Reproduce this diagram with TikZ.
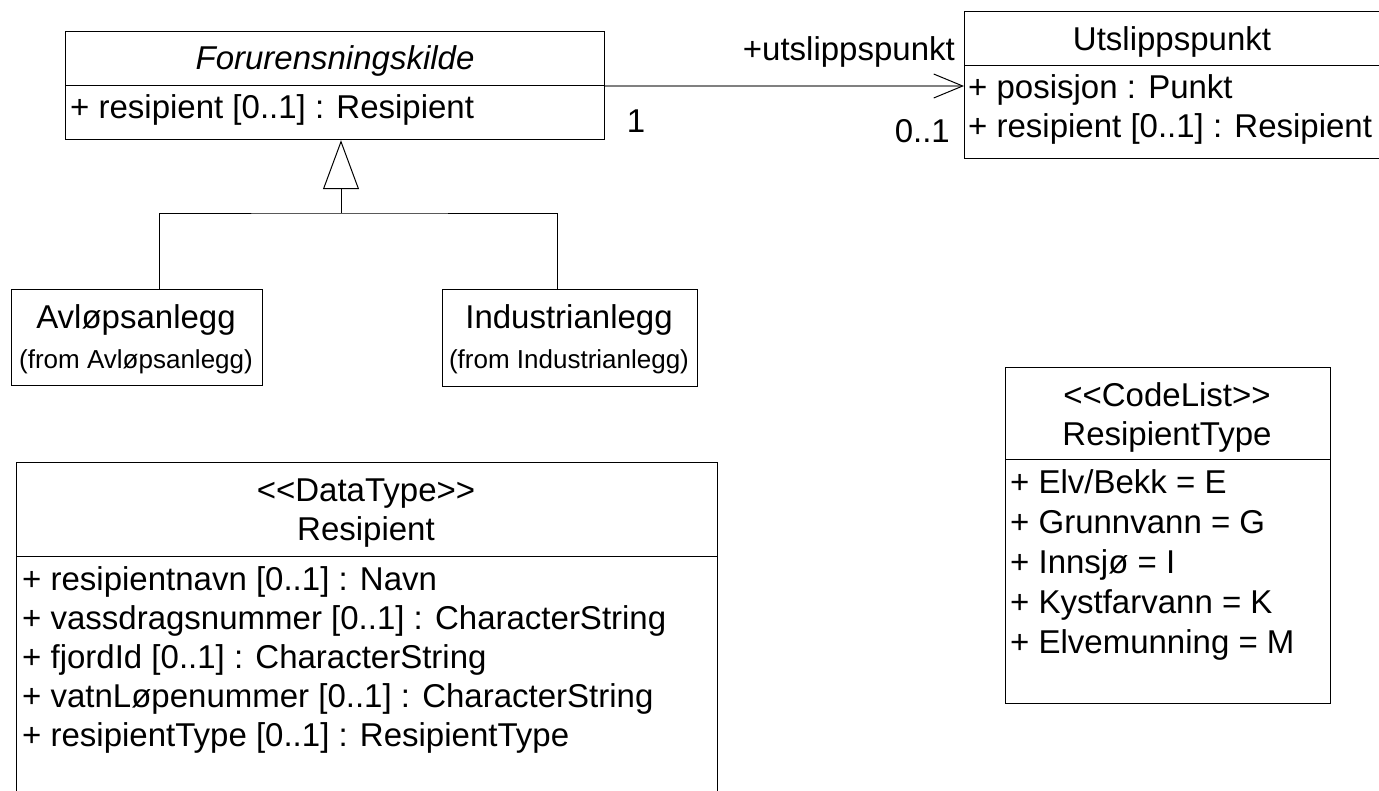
\documentclass[tikz,border=0pt]{standalone}
\usepackage{fontspec}
\setmainfont{Liberation Sans}[Ligatures=TeXOff]
\usetikzlibrary{arrows.meta}
\tikzset{
  klasse/.style={draw, line width=1.2pt, anchor=north west, inner sep=0pt},
  skille/.style={line width=1pt},
  attr/.style={anchor=mid west, inner sep=0pt},
  tittel/.style={anchor=mid, inner sep=0pt},
  fra/.style={anchor=mid, inner sep=0pt, font=\fontsize{26}{30}\selectfont},
  assoc/.style={draw=gray, line width=1.5pt, -{Straight Barb[length=29pt, width=24pt, line width=1pt, color=black]}},
  arv/.style={line width=1pt, -{Triangle[open, length=49pt, width=36pt, line width=1pt]}},
}
\begin{document}
\begin{tikzpicture}[x=1pt, y=-1pt, font=\fontsize{33}{39}\selectfont]
\useasboundingbox (0,0) rectangle (1379,790);
\node[klasse, minimum width=539pt, minimum height=108pt] (kilde) at (65,31) {};
\node[klasse, minimum width=416pt, minimum height=147pt] (utslipp) at (964,11) {};
\node[klasse, minimum width=251pt, minimum height=96pt] (avlop) at (11,289) {};
\node[klasse, minimum width=255pt, minimum height=97pt] (industri) at (442,289) {};
\node[klasse, minimum width=701pt, minimum height=340pt] (resipient) at (16,462) {};
\node[klasse, minimum width=325pt, minimum height=336pt] (resiptype) at (1005,367) {};
\draw[skille] (kilde.west |- 0,85) -- (kilde.east |- 0,85);
\draw[skille] (utslipp.west |- 0,65) -- (utslipp.east |- 0,65);
\draw[skille] (resipient.west |- 0,556) -- (resipient.east |- 0,556);
\draw[skille] (resiptype.west |- 0,459) -- (resiptype.east |- 0,459);
\node[tittel] (kildenavn) at (335,67) {\itshape Forurensningskilde};
\node[attr] (kildeattr) at (70,116) {+ resipient [0..1] : Resipient};
\node[tittel] (utslippnavn) at (1172,48) {Utslippspunkt};
\node[attr] (posisjon) at (968,96) {+ posisjon : Punkt};
\node[attr] (utslippattr) at (968,135) {+ resipient [0..1] : Resipient};
\node[anchor=mid east, inner sep=0pt] (rolle) at (955,58) {+utslippspunkt};
\node[tittel] (mult1) at (636,130) {1};
\node[anchor=mid east, inner sep=0pt] (mult2) at (950,140) {0..1};
\draw[assoc] (kilde.east |- 0,86) -- (utslipp.west |- 0,86);
\node[tittel] (avlopnavn) at (136,326) {Avløpsanlegg};
\node[fra] (avlopfra) at (136,366) {(from Avløpsanlegg)};
\node[tittel] (industrinavn) at (569,326) {Industrianlegg};
\node[fra] (industrifra) at (569,366) {(from Industrianlegg)};
\coordinate (knekk) at (341,213);
\draw[arv] (knekk) -- (kilde.south -| knekk);
\draw[line width=1pt] (avlop.north -| 159,0) |- (knekk) -| (industri.north -| 557,0);
\node[tittel] (datatype) at (366,499) {<<DataType>>};
\node[tittel] (resipnavn) at (366,538) {Resipient};
\node[attr] (attr1) at (22,588) {+ resipientnavn [0..1] : Navn};
\node[attr] (attr2) at (22,627) {+ vassdragsnummer [0..1] : CharacterString};
\node[attr] (attr3) at (22,666) {+ fjordId [0..1] : CharacterString};
\node[attr] (attr4) at (22,705) {+ vatnLøpenummer [0..1] : CharacterString};
\node[attr] (attr5) at (22,744) {+ resipientType [0..1] : ResipientType};
\node[tittel] (codelist) at (1167,404) {<<CodeList>>};
\node[tittel] (typenavn) at (1167,443) {ResipientType};
\node[attr] (kode1) at (1010,491) {+ Elv/Bekk = E};
\node[attr] (kode2) at (1010,531) {+ Grunnvann = G};
\node[attr] (kode3) at (1010,571) {+ Innsjø = I};
\node[attr] (kode4) at (1010,611) {+ Kystfarvann = K};
\node[attr] (kode5) at (1010,651) {+ Elvemunning = M};
\end{tikzpicture}
\end{document}
